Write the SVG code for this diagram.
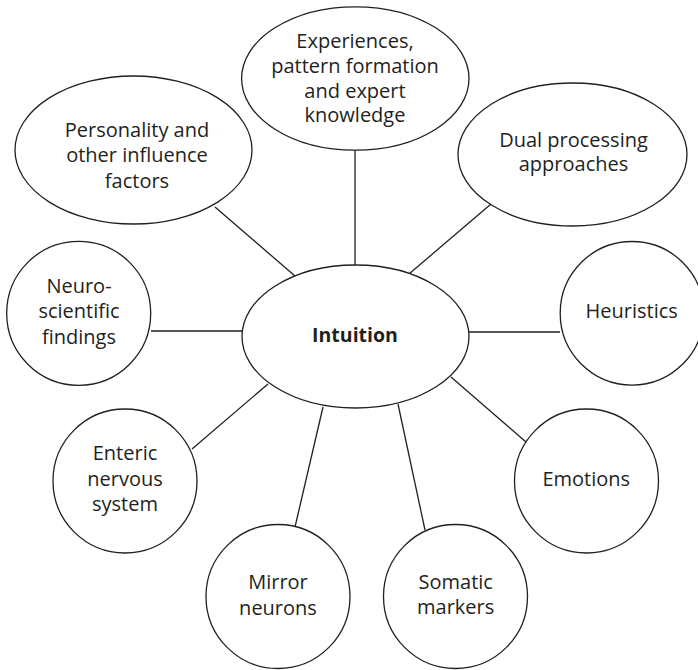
<svg xmlns="http://www.w3.org/2000/svg" width="698" height="670" viewBox="0 0 698 670">
<style>
.n{fill:#fff;stroke:#231f20;stroke-width:1.3}
.c line{stroke:#231f20;stroke-width:1.3}
text{font-family:"Open Sans","Noto Sans","DejaVu Sans",sans-serif;font-size:20px;fill:#231f20;text-anchor:middle}
.b{font-weight:bold;font-size:19.5px}
</style>
<rect width="698" height="670" fill="#fff"/>
<g id="connectors" class="c">
<line x1="355" y1="150" x2="355" y2="265"/>
<line x1="215" y1="207" x2="295" y2="276"/>
<line x1="491" y1="204" x2="409" y2="274"/>
<line x1="469" y1="332" x2="560" y2="332"/>
<line x1="151" y1="331" x2="242" y2="331"/>
<line x1="192" y1="449" x2="268" y2="384"/>
<line x1="295" y1="527" x2="323" y2="407"/>
<line x1="425" y1="530" x2="398" y2="404"/>
<line x1="526" y1="442" x2="451" y2="377"/>
</g>
<g id="intuition">
<ellipse class="n" cx="355.5" cy="336.5" rx="113.5" ry="71.5"/>
<text class="b" x="355" y="341.5">Intuition</text>
</g>
<g id="experiences">
<ellipse class="n" cx="355.3" cy="78.5" rx="113.7" ry="71.7"/>
<text x="355" y="47.5">Experiences,</text>
<text x="355" y="72.5">pattern formation</text>
<text x="355" y="97.5">and expert</text>
<text x="355" y="122">knowledge</text>
</g>
<g id="personality">
<ellipse class="n" cx="133.5" cy="150" rx="118.5" ry="74"/>
<text x="137" y="136.5">Personality and</text>
<text x="137" y="162">other influence</text>
<text x="137" y="187.5">factors</text>
</g>
<g id="dual">
<ellipse class="n" cx="572.5" cy="154.5" rx="114.5" ry="71.5"/>
<text x="573.5" y="146.5">Dual processing</text>
<text x="573.5" y="171">approaches</text>
</g>
<g id="heuristics">
<circle class="n" cx="632" cy="313.3" r="71.8"/>
<text x="631.7" y="317.5">Heuristics</text>
</g>
<g id="neuro">
<circle class="n" cx="78.7" cy="313.3" r="72"/>
<text x="79" y="292.5">Neuro-</text>
<text x="79" y="318">scientific</text>
<text x="79" y="343.5">findings</text>
</g>
<g id="enteric">
<circle class="n" cx="125" cy="481" r="72"/>
<text x="125" y="460">Enteric</text>
<text x="125" y="485.5">nervous</text>
<text x="125" y="511">system</text>
</g>
<g id="mirror">
<circle class="n" cx="278" cy="596.5" r="72"/>
<text x="278" y="589">Mirror</text>
<text x="278" y="614.5">neurons</text>
</g>
<g id="somatic">
<circle class="n" cx="455.5" cy="596.5" r="72"/>
<text x="455.7" y="589">Somatic</text>
<text x="455.7" y="614">markers</text>
</g>
<g id="emotions">
<circle class="n" cx="586.5" cy="481" r="72"/>
<text x="586.3" y="485.5">Emotions</text>
</g>
</svg>
